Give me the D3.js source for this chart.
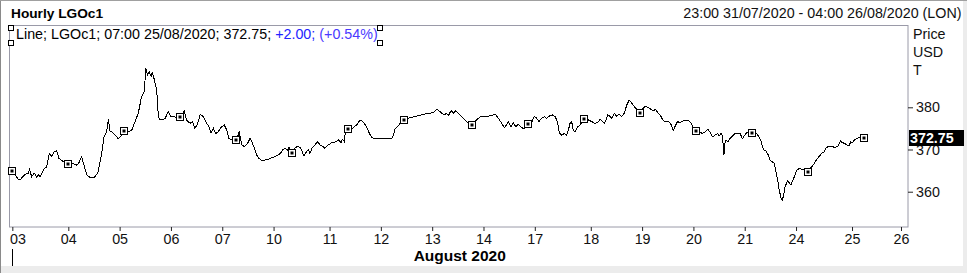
<!DOCTYPE html>
<html><head><meta charset="utf-8">
<script src="https://cdn.jsdelivr.net/npm/d3@7"></script>
<style>
body{margin:0;background:#fff;}
svg{display:block;font-family:Arial,"Liberation Sans",sans-serif;}
</style>
</head><body>
<svg id="chart" width="967" height="273"></svg>
<script>
// ---- data (hour index since 23:00 31/07/2020, trading hours only) ----
const hours = [0,1,3.6,4.3,6.4,7.9,8.3,9.3,10.4,11.4,12.1,12.9,14.7,15.7,16.9,17.9,19,20,21,22.9,25,27.1,28.6,29.6,30.7,31.7,32.9,34.3,36.2,37.6,39.3,40.3,41.4,42.2,42.9,43.6,45,46.4,47.9,49,51,52.2,53.6,55,56.4,57.6,58.2,59,59.7,60.5,61,61.9,62.9,63.6,64.3,65.7,66.5,67.9,68.9,70.5,71.5,73,74.3,74.7,75.7,77.2,78.2,79.3,80.5,81.5,82.9,84.3,85.3,86.2,87.2,88.2,89.3,90.7,91.9,92.9,93.9,95,97,97.9,98.3,
99.3,100.5,101.9,102.9,103.6,104.8,105.7,106.7,107.9,109.3,110.8,112.2,113.6,115,116,116.9,117.9,118.9,119.6,121,122.2,123.2,124.3,125,126,127.2,127.9,128.6,129.6,130.8,131.9,132.9,133.9,135,136.5,137.9,139,140,141,141.9,142.5,143.3,143.6,144.1,145,146.5,147.6,148.6,149.8,150.8,151.8,152.9,154.1,155.1,156.2,163.6,164.3,165.1,166.2,167.2,167.9,169,170.8,173.6,176.5,179.3,181.5,182.9,183.9,185.1,186.2,187.2,187.9,189.1,190.1,191.1,192.2,193.6,195.1,196.2,197.2,198,
199.4,200.8,202.2,205.1,206.5,208.2,209.4,210.8,211.9,212.9,213.6,214.8,215.8,216.8,217.9,219.4,220.4,221.5,222,223.6,224.8,225.8,226.8,227.9,229.1,230.1,231.1,232.5,233.7,234.4,235.1,235.5,236.5,237.7,238.7,239.4,240.1,240.8,241.5,242.2,243.4,244.4,245.4,246,248,249.4,250.8,252,253,254,254.8,255.8,256.2,257.2,258,259.1,260.1,261.1,262.2,263.4,264.4,265.4,266.2,267.2,268.2,269.4,270,271.1,272.2,273.7,274.8,275.8,276.8,277.7,278.7,279.7,280.8,282.2,283.2,284,284.4,285.4,286.2,287.2,288.7,291.1,292.2,293,294,
295.8,296.8,298,299.1,300.1,301.1,302.3,303.4,304,304.8,305.4,305.8,306.1,306.5,307,307.7,308.7,309.7,310.8,312,313,314,314.8,315.8,316.8,318,320.1,321.1,322,323,324,325.1,325.8,326.8,327.7,328.4,329.1,329.8,330.6,331.1,331.7,332.3,333.4,334.1,334.8,335.4,336.3,337.3,338.3,339.7,340.8,342,343.7,344.8,345.8,346.8,348,349.1,349.8,350.8,352.3,353.7,354.8,355.6,356.1,356.8,357.7,358.7,359.7,360.4,361.1,362,363,364,365.1,366];
const prices = [365.5,364.9,362.9,362.8,364.1,364.4,365.3,363.6,364.4,363.5,364.0,363.6,365.5,365.8,369.1,368.3,369.5,369.7,367.9,367.1,366.6,366.7,366.3,366.9,368.3,366.3,364.0,363.4,363.4,364.4,369.1,373.0,374.2,377.1,374.2,374.2,373.4,372.6,373.4,374.5,374.2,374.6,376.6,378.6,382.5,383.7,389.2,387.7,388.4,387.3,388.4,386.5,384.1,377.8,377.0,377.0,377.4,379.0,377.8,377.8,377.4,377.6,378.6,379.2,377.0,376.2,376.6,375.0,376.2,378.3,377.8,376.2,375.4,374.0,375.0,373.8,374.2,375.4,375.8,374.6,372.6,372.3,372.3,373.5,374.3,
371.1,370.7,371.5,372.6,371.9,370.3,368.7,367.9,367.4,367.5,367.7,368.1,368.3,368.7,369.1,369.9,370.3,369.9,370.5,369.2,370.3,370.8,370.5,369.9,368.5,369.5,369.9,369.1,370.5,371.1,371.9,371.1,370.8,370.3,371.1,371.6,371.7,371.9,372.3,371.6,372.4,371.9,373.4,374.2,374.8,374.8,375.4,375.8,376.8,376.8,376.2,375.4,373.8,372.9,372.6,372.6,373.2,375.0,375.4,376.2,376.5,377.1,377.4,377.8,378.2,378.6,378.7,379.5,379.2,378.6,378.2,378.6,378.0,379.2,378.6,379.2,378.6,377.8,377.0,376.3,375.8,375.8,
376.6,377.4,377.9,377.9,378.1,378.3,377.4,376.2,375.2,375.8,376.6,375.4,376.4,375.4,376.0,375.2,374.8,375.8,376.0,376.4,377.9,377.4,376.6,377.4,377.8,377.4,377.9,378.2,377.8,377.0,375.4,374.0,373.4,373.8,373.4,374.6,376.2,376.6,374.6,374.2,375.4,375.8,376.6,377.2,377.0,376.6,376.2,376.4,377.2,376.6,376.2,377.4,378.2,377.9,377.4,378.6,377.8,378.4,377.8,378.6,380.5,381.6,381.3,380.5,379.8,379.2,378.7,379.5,380.2,380.0,379.5,379.2,379.5,378.7,378.2,377.2,376.6,376.6,376.2,375.0,374.6,375.8,376.6,376.4,376.8,376.8,376.2,375.0,374.4,
374.2,373.8,374.2,374.8,374.2,373.0,373.4,373.8,373.2,373.8,373.4,370.7,368.7,371.5,372.3,371.8,372.6,373.2,373.8,373.7,373.8,372.6,373.2,374.0,374.2,374.0,373.8,373.0,371.9,370.0,369.7,368.7,367.5,367.1,366.7,364.7,362.8,360.4,358.4,358.0,359.2,361.2,362.6,362.1,361.6,362.4,363.6,365.1,365.5,365.3,365.0,364.7,365.9,366.7,367.6,368.3,369.1,369.5,370.3,370.7,370.7,370.5,370.7,371.5,372.1,371.6,371.5,371.1,370.8,371.8,371.6,372.2,372.6,372.8,372.6,372.75];
const markerHours = [1,25,49,73,97,121,145,169,198,222,246,270,294,318,342,366];
const dayLabels = ["03","04","05","06","07","10","11","12","13","14","17","18","19","20","21","24","25","26"];
const dayStartHours = [1,25,47,69,91,113,137,159,181,203,225,249,271,293,315,337,361,382];
const priceTicks = [360,370,380];
const unitLabels = ["Price","USD","T"];
const lastPrice = 372.75;
const titleText = "Hourly LGOc1";
const rangeText = "23:00 31/07/2020 - 04:00 26/08/2020 (LON)";
const legendParts = [
  {text:"Line; LGOc1; 07:00 25/08/2020; 372.75; ", color:"#000"},
  {text:"+2.00; ", color:"#2323ff"},
  {text:"(+0.54%)", color:"#4a3aff"}
];
const monthLabel = "August 2020";

// ---- layout ----
const W = 967, H = 273;
const plot = {l:9.5, t:25.5, r:908, b:227};
const svg = d3.select("#chart");
const FS = "14.3px";

// window chrome
svg.append("rect").attr("x",0).attr("y",266).attr("width",W).attr("height",7).attr("fill","#ececec");
svg.append("rect").attr("x",963).attr("y",0).attr("width",4).attr("height",H).attr("fill","#ececec");
svg.append("line").attr("x1",0.5).attr("x2",0.5).attr("y1",0).attr("y2",H).attr("stroke","#8a8a8a");
svg.append("line").attr("x1",0).attr("x2",W).attr("y1",0.5).attr("y2",0.5).attr("stroke","#a0a0a0");

const x = d3.scaleLinear().domain([0,385]).range([10,908]);
const y = d3.scaleLinear().domain([351.64,399.38]).range([plot.b,plot.t]);

// plot frame
svg.append("rect").attr("x",plot.l).attr("y",plot.t)
  .attr("width",plot.r-plot.l).attr("height",plot.b-plot.t)
  .attr("fill","#fff").attr("stroke","#9a9aa8").attr("stroke-width",1);

// title / range
svg.append("text").attr("x",11).attr("y",18).attr("font-size","13.7px").attr("font-weight","bold").text(titleText);
svg.append("text").attr("x",961.5).attr("y",18).attr("font-size",FS).attr("text-anchor","end").attr("fill","#111").text(rangeText);

// line
const pts = hours.map((h,i)=>[h,prices[i]]);
svg.append("path").datum(pts)
  .attr("d", d3.line().x(d=>x(d[0])).y(d=>y(d[1])))
  .attr("fill","none").attr("stroke","#000").attr("stroke-width",1)
  .attr("shape-rendering","crispEdges");

// markers
const mk = svg.append("g");
markerHours.forEach(h=>{
  const i = hours.indexOf(h);
  const cx = Math.round(x(h)), cy = Math.round(y(prices[i]));
  mk.append("rect").attr("x",cx-3.5).attr("y",cy-3.5).attr("width",7).attr("height",7)
    .attr("fill","#fff").attr("stroke","#000").attr("stroke-width",1);
  mk.append("rect").attr("x",cx-1.5).attr("y",cy-1.5).attr("width",3).attr("height",3).attr("fill","#000");
});

// legend
const lt = svg.append("text").attr("x",16).attr("y",39).attr("font-size",FS);
legendParts.forEach(p=>lt.append("tspan").attr("fill",p.color).text(p.text));
[[8,25],[8,40],[377,25],[377,40]].forEach(([hx,hy])=>{
  svg.append("rect").attr("x",hx+0.5).attr("y",hy+0.5).attr("width",5).attr("height",5)
    .attr("fill","#fff").attr("stroke","#000");
});

// x axis
const xAxis = d3.axisBottom(x).tickValues(dayStartHours)
  .tickFormat((d,i)=>dayLabels[i]).tickSizeOuter(0).tickSize(4).tickPadding(2);
const gx = svg.append("g").attr("transform",`translate(0,${plot.b})`).call(xAxis);
gx.select(".domain").remove();
gx.selectAll("line").attr("stroke","#222");
gx.selectAll("text").attr("font-size",FS).attr("fill","#111").attr("font-family","Arial, 'Liberation Sans', sans-serif")
  .attr("dy","0").attr("y",16.5)
  .each(function(d,i){
    const bb = this.getBBox();
    if (x(d) - bb.width/2 < plot.l) {
      d3.select(this).attr("text-anchor","start").attr("x", plot.l - x(d));
    }
  });

// month label
svg.append("text").attr("x",(plot.l+plot.r)/2+1).attr("y",261).attr("text-anchor","middle")
  .attr("font-size","15.5px").attr("font-weight","bold").text(monthLabel);
svg.append("line").attr("x1",Math.round(x(dayStartHours[0]))+0.5).attr("x2",Math.round(x(dayStartHours[0]))+0.5)
  .attr("y1",249).attr("y2",266).attr("stroke","#000");

// y axis (right)
const yAxis = d3.axisRight(y).tickValues(priceTicks).tickSize(5).tickPadding(3).tickFormat(d3.format("d"));
const gy = svg.append("g").attr("transform",`translate(${plot.r},0)`).call(yAxis);
gy.select(".domain").remove();
gy.selectAll("line").attr("stroke","#222");
gy.selectAll("text").attr("font-size",FS).attr("fill","#111").attr("font-family","Arial, 'Liberation Sans', sans-serif");

// unit labels
unitLabels.forEach((t,i)=>{
  svg.append("text").attr("x",913).attr("y",38.5+i*18).attr("font-size",FS).attr("fill","#111").text(t);
});

// last value badge
const ly = y(lastPrice);
svg.append("rect").attr("x",909).attr("y",Math.round(ly)-8).attr("width",55).attr("height",16).attr("fill","#000");
svg.append("text").attr("x",910).attr("y",Math.round(ly)+5).attr("font-size",FS).attr("font-weight","bold")
  .attr("fill","#fff").text(d3.format(".2f")(lastPrice));
</script>
</body></html>
